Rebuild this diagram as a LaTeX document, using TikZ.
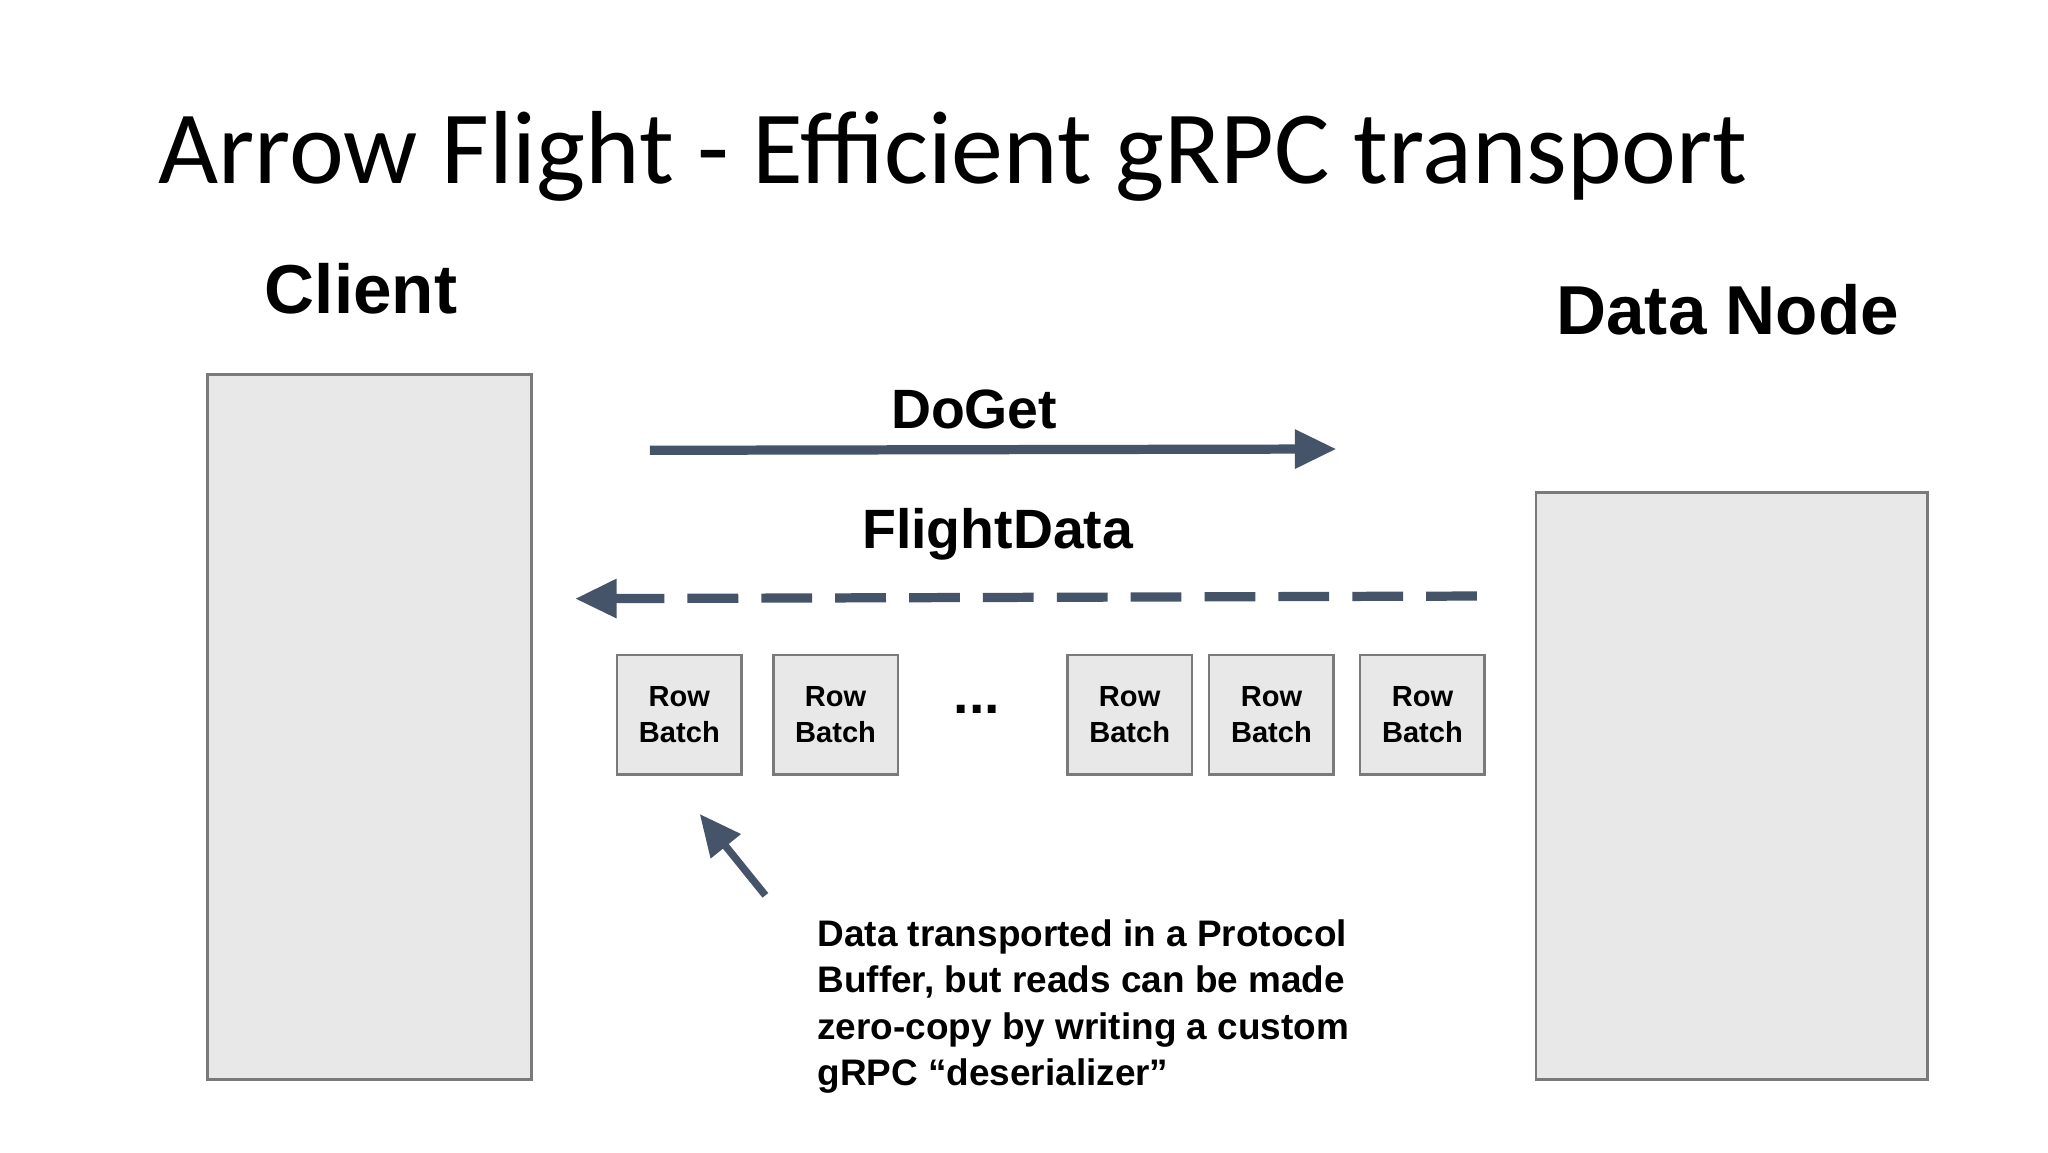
\documentclass[tikz,border=0pt]{standalone}
\usepackage{fontspec}
\setmainfont{Liberation Sans}
\newfontfamily\titlefont{Carlito}
\usetikzlibrary{arrows.meta}
\definecolor{boxfill}{HTML}{E8E8E8}
\definecolor{boxline}{HTML}{7A7A7A}
\definecolor{arr}{HTML}{46546A}
\begin{document}
\begin{tikzpicture}[x=0.01cm,y=-0.01cm,
  big/.style={fill=boxfill,draw=boxline,line width=0.6pt},
  rb/.style={fill=boxfill,draw=boxline,line width=0.6pt,minimum width=0.95cm,minimum height=0.91cm,inner sep=0pt,align=center,font=\fontsize{6.3}{7.8}\selectfont\bfseries},
  lbl/.style={font=\fontsize{12}{14}\selectfont\bfseries},
  hdr/.style={font=\fontsize{15}{18}\selectfont\bfseries},
  conn/.style={draw=arr,line width=2pt,-{Triangle[length=9pt,width=8pt]}}]
\useasboundingbox[fill=white] (0,0) rectangle (1560,877.5);
\node[anchor=base west,inner sep=0pt,font=\titlefont\fontsize{22.5}{26}\selectfont] (title) at (120,140) {Arrow Flight - Efficient gRPC transport};
\node[hdr] (clab) at (275,220) {Client};
\node[hdr] (dlab) at (1316,236) {Data Node};
\draw[big] (158,285) rectangle (405,822);
\draw[big] (1170,375) rectangle (1468,822);
\coordinate (g1) at (495,343); \coordinate (g2) at (1018,342);
\draw[conn] (g1) -- (g2);
\node[lbl] (doget) at (742,312) {DoGet};
\coordinate (f1) at (1125,454); \coordinate (f2) at (438,456);
\draw[conn,dash pattern=on 11pt off 5pt] (f1) -- (f2);
\node[lbl] (fd) at (760,407) {FlightData};
\node[rb] (r1) at (517.5,544.5) {Row\\Batch};
\node[rb] (r2) at (636.5,544.5) {Row\\Batch};
\node[rb] (r3) at (860.5,544.5) {Row\\Batch};
\node[rb] (r4) at (968.5,544.5) {Row\\Batch};
\node[rb] (r5) at (1083.5,544.5) {Row\\Batch};
\node[lbl] (dots) at (744,540) {...};
\coordinate (a1) at (583,682); \coordinate (a2) at (533,620);
\draw[draw=arr,line width=1.6pt,-{Triangle[length=9pt,width=8pt]}] (a1) -- (a2);
\node[anchor=north west,inner sep=0pt,align=left,font=\fontsize{8}{10}\selectfont\bfseries] (note) at (622,700) {Data transported in a Protocol\\Buffer, but reads can be made\\zero-copy by writing a custom\\gRPC “deserializer”};
\end{tikzpicture}
\end{document}
